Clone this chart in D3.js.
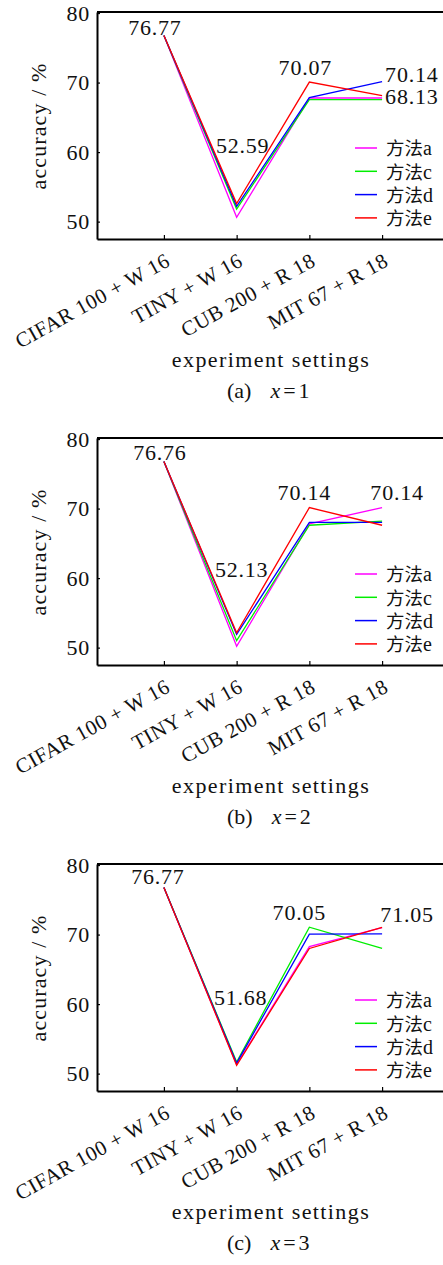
<!DOCTYPE html>
<html>
<head>
  <meta charset="utf-8">
  <title>accuracy vs experiment settings</title>
  <script src="https://d3js.org/d3.v7.min.js"></script>
  <style>
  body {
    margin: 0;
    background: #fff;
  }

  svg {
    background: #fff;
    display: block;
  }

  text {
    font-family: "Liberation Serif", "Times New Roman", serif;
    fill: #111;
  }

  .cjk {
    font-family: "Noto Sans CJK SC", sans-serif;
  }
  </style>
</head>
<body>
  <script>

    // categories on the x axis
    var categories = ["CIFAR 100 + W 16", "TINY + W 16", "CUB 200 + R 18", "MIT 67 + R 18"];

    // legend names and line colours
    var methods = ["方法a", "方法c", "方法d", "方法e"];
    var colors = ["#ff00ff", "#00ee00", "#0000ff", "#ff0000"];

    var yTicks = [50, 60, 70, 80];

    // (a) x = 1, one row per method (a, c, d, e)
    var valuesA = [
      [76.77, 50.63, 67.80, 67.78],
      [76.77, 51.80, 67.55, 67.55],
      [76.77, 52.20, 67.85, 70.14],
      [76.77, 52.59, 70.07, 68.13]
    ];

    // (b) x = 2
    var valuesB = [
      [76.76, 50.20, 67.80, 70.14],
      [76.76, 51.00, 67.60, 68.20],
      [76.76, 51.90, 68.00, 68.00],
      [76.76, 52.13, 70.14, 67.60]
    ];

    // (c) x = 3
    var valuesC = [
      [76.77, 51.30, 68.26, 71.00],
      [76.77, 51.68, 71.06, 68.00],
      [76.77, 51.50, 70.05, 70.10],
      [76.77, 51.20, 68.00, 71.05]
    ];

    // value labels: [category index, value]
    var labelsA = [[0, 76.77], [1, 52.59], [2, 70.07], [3, 70.14], [3, 68.13]];
    var labelsB = [[0, 76.76], [1, 52.13], [2, 70.14], [3, 70.14]];
    var labelsC = [[0, 76.77], [1, 51.68], [2, 70.05], [3, 71.05]];

    // where each label sits relative to its point: [dx, dy, anchor]
    var offsetsA = [[-9, 0, "middle"], [6, -51, "middle"], [-4, -7, "middle"], [3, 0, "start"], [3, 8, "start"]];
    var offsetsB = [[-4, -2, "middle"], [5, -56, "middle"], [-5, -8, "middle"], [15, -8, "middle"]];
    var offsetsC = [[-6, -3, "middle"], [4, -57, "middle"], [-10, -14, "middle"], [25, -5, "middle"]];

    var width = 443;
    var height = 1265;

    var svg = d3.select("body")
      .append("svg")
      .attr("width", width)
      .attr("height", height);

    function drawPanel(top, values, labels, offsets, letter, xValue) {
      var g = svg.append("g");

      var x = d3.scalePoint()
        .domain(categories)
        .range([97, 449])
        .padding(0.92);

      var y = d3.scaleLinear()
        .domain([47.5, 80.15])
        .range([top + 227, top]);

      // top frame line
      g.append("line")
        .attr("x1", 97)
        .attr("x2", 449)
        .attr("y1", top)
        .attr("y2", top)
        .attr("stroke", "#000")
        .attr("stroke-width", 2);

      var xAxis = g.append("g")
        .attr("transform", "translate(0," + (top + 227) + ")")
        .call(d3.axisBottom(x).tickSizeInner(-4).tickSizeOuter(0));

      xAxis.selectAll("text")
        .attr("x", 0)
        .attr("y", 0)
        .attr("dy", 0)
        .attr("text-anchor", "end")
        .attr("transform", "translate(7,26) rotate(-29)")
        .style("font-size", "21px")
        .style("letter-spacing", "0.5px");

      var yAxis = g.append("g")
        .attr("transform", "translate(97,0)")
        .call(d3.axisLeft(y).tickValues(yTicks).tickSizeInner(-3).tickSizeOuter(0).tickPadding(7));

      yAxis.selectAll("text")
        .style("font-size", "22px")
        .style("letter-spacing", "0.8px");

      [xAxis, yAxis].forEach(function(a) {
        a.attr("font-family", null).attr("font-size", null);
        a.select(".domain").attr("stroke-width", 2);
        a.selectAll(".tick line").attr("stroke-width", 1.2);
      });

      var line = d3.line()
        .x(function(d, i) { return x(categories[i]); })
        .y(function(d) { return y(d); });

      g.selectAll(".series")
        .data(values)
        .enter()
        .append("path")
        .attr("class", "series")
        .attr("fill", "none")
        .attr("stroke", function(d, i) { return colors[i]; })
        .attr("stroke-width", 1.3)
        .attr("d", line);

      g.selectAll(".vlabel")
        .data(labels)
        .enter()
        .append("text")
        .attr("class", "vlabel")
        .attr("x", function(d, i) { return x(categories[d[0]]) + offsets[i][0]; })
        .attr("y", function(d, i) { return y(d[1]) + offsets[i][1]; })
        .attr("text-anchor", function(d, i) { return offsets[i][2]; })
        .style("font-size", "22px")
        .style("letter-spacing", "0.8px")
        .text(function(d) { return d[1].toFixed(2); });

      // legend
      var legend = g.selectAll(".legend")
        .data(methods)
        .enter()
        .append("g")
        .attr("class", "legend")
        .attr("transform", function(d, i) { return "translate(355," + (top + 136 + i * 23.3) + ")"; });

      legend.append("line")
        .attr("x1", 0)
        .attr("x2", 22)
        .attr("stroke", function(d, i) { return colors[i]; })
        .attr("stroke-width", 1.5);

      var lt = legend.append("text")
        .attr("x", 31)
        .attr("dy", "0.36em")
        .style("font-size", "20px");
      lt.append("tspan")
        .attr("class", "cjk")
        .style("font-size", "18.5px")
        .text(function(d) { return d.slice(0, 2); });
      lt.append("tspan")
        .text(function(d) { return d.slice(2); });

      g.append("text")
        .attr("transform", "translate(46," + (top + 114) + ") rotate(-90)")
        .attr("text-anchor", "middle")
        .style("font-size", "22px")
        .style("letter-spacing", "1.1px")
        .text("accuracy / %");

      g.append("text")
        .attr("x", 271)
        .attr("y", top + 355)
        .attr("text-anchor", "middle")
        .style("font-size", "22px")
        .style("letter-spacing", "1.4px")
        .text("experiment settings");

      var cap = g.append("text")
        .attr("x", 227)
        .attr("y", top + 386)
        .style("font-size", "22px");
      cap.append("tspan").text("(" + letter + ")");
      cap.append("tspan").attr("dx", 19).style("font-style", "italic").text("x");
      cap.append("tspan").attr("dx", 3).text("=");
      cap.append("tspan").attr("dx", 3).text(xValue);
    }

    drawPanel(12, valuesA, labelsA, offsetsA, "a", "1");
    drawPanel(438, valuesB, labelsB, offsetsB, "b", "2");
    drawPanel(864, valuesC, labelsC, offsetsC, "c", "3");

  </script>
</body>
</html>
